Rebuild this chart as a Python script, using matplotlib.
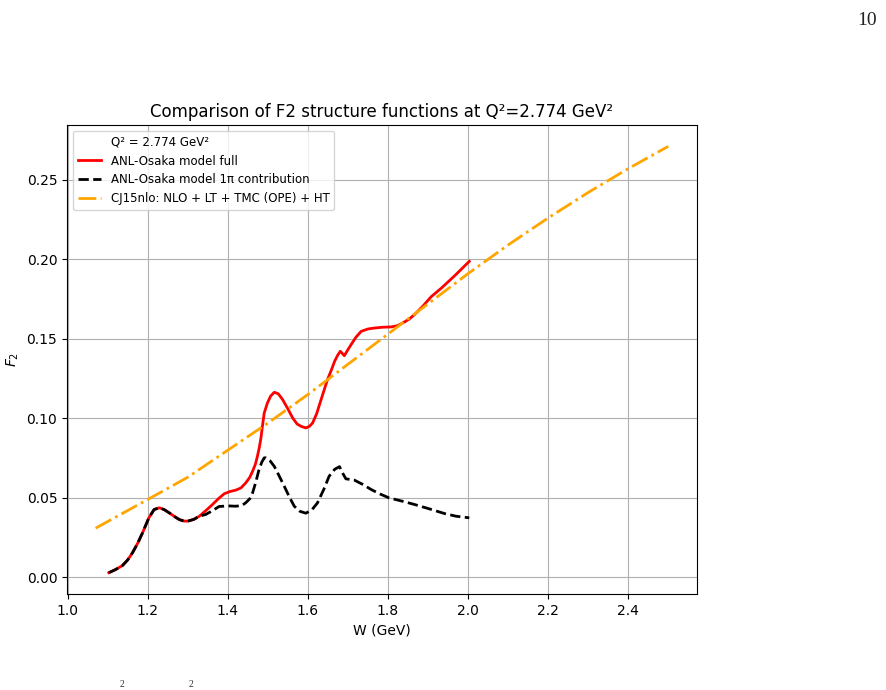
import matplotlib
matplotlib.use("Agg")
import matplotlib.pyplot as plt
import numpy as np

# Values
w_full = [1.103, 1.120, 1.137, 1.150, 1.162, 1.175, 1.187, 1.203, 1.216, 1.229,
          1.241, 1.254, 1.267, 1.279, 1.290, 1.300, 1.315, 1.329, 1.345, 1.362,
          1.377, 1.391, 1.405, 1.420, 1.433, 1.445, 1.455, 1.462, 1.469, 1.474,
          1.479, 1.483, 1.487, 1.491, 1.499, 1.507, 1.516, 1.526, 1.537, 1.550,
          1.562, 1.573, 1.583, 1.595, 1.604, 1.612, 1.622, 1.633, 1.649, 1.658,
          1.667, 1.674, 1.681, 1.686, 1.691, 1.700, 1.708, 1.720, 1.733, 1.750,
          1.766, 1.787, 1.808, 1.823, 1.837, 1.852, 1.866, 1.887, 1.908, 1.933,
          1.968, 2.003]
f2_full = [0.0030, 0.0050, 0.0075, 0.0110, 0.0155, 0.0215, 0.0280, 0.0375, 0.0427, 0.0438,
           0.0427, 0.0406, 0.0383, 0.0364, 0.0355, 0.0354, 0.0365, 0.0385, 0.0420, 0.0459,
           0.0496, 0.0526, 0.0540, 0.0549, 0.0563, 0.0595, 0.0630, 0.0668, 0.0712, 0.0762,
           0.0820, 0.0880, 0.0960, 0.1034, 0.1097, 0.1140, 0.1164, 0.1155, 0.1118, 0.1060,
           0.1003, 0.0965, 0.0950, 0.0940, 0.0950, 0.0972, 0.1030, 0.1118, 0.1244, 0.1300,
           0.1360, 0.1395, 0.1422, 0.1408, 0.1394, 0.1432, 0.1464, 0.1510, 0.1547, 0.1562,
           0.1568, 0.1573, 0.1575, 0.1582, 0.1600, 0.1622, 0.1652, 0.1705, 0.1765, 0.1818,
           0.1900, 0.1987]

w_1pi = [1.103, 1.120, 1.137, 1.150, 1.162, 1.175, 1.187, 1.203, 1.216, 1.229,
         1.241, 1.254, 1.267, 1.279, 1.290, 1.300, 1.315, 1.329, 1.345, 1.362,
         1.378, 1.400, 1.420, 1.435, 1.445, 1.455, 1.462, 1.470, 1.478, 1.485,
         1.491, 1.495, 1.505, 1.516, 1.528, 1.541, 1.554, 1.566, 1.580, 1.595,
         1.610, 1.624, 1.640, 1.653, 1.667, 1.679, 1.687, 1.695, 1.716, 1.737,
         1.758, 1.780, 1.803, 1.835, 1.866, 1.905, 1.941, 1.970, 2.003]
f2_1pi = [0.0030, 0.0050, 0.0075, 0.0110, 0.0155, 0.0215, 0.0280, 0.0375, 0.0427, 0.0438,
          0.0427, 0.0406, 0.0383, 0.0364, 0.0355, 0.0354, 0.0365, 0.0385, 0.0396, 0.0420,
          0.0446, 0.0450, 0.0448, 0.0452, 0.0470, 0.0495, 0.0532, 0.0600, 0.0678, 0.0725,
          0.0752, 0.0752, 0.0735, 0.0699, 0.0640, 0.0574, 0.0505, 0.0448, 0.0416, 0.0404,
          0.0425, 0.0469, 0.0555, 0.0636, 0.0680, 0.0697, 0.0655, 0.0620, 0.0612, 0.0585,
          0.0553, 0.0525, 0.0500, 0.0480, 0.0459, 0.0430, 0.0402, 0.0385, 0.0375]

w_cj15 = [1.07, 1.2, 1.3, 1.4, 1.5, 1.6, 1.7, 1.8, 1.9, 2.0, 2.1, 2.2, 2.3, 2.4, 2.5]
f2_cj15 = [0.031, 0.049, 0.063, 0.080, 0.097, 0.115, 0.134, 0.153, 0.172, 0.191,
           0.209, 0.226, 0.242, 0.257, 0.271]

q2 = 2.774

fig = plt.figure(figsize=(8.86, 6.9), dpi=100)
ax = fig.add_axes([0.0756, 0.1391, 0.711, 0.6797])

ax.plot([], [], ' ', label=f"Q² = {q2} GeV²")
ax.plot(w_full, f2_full, color='red', linewidth=2, label="ANL-Osaka model full")
ax.plot(w_1pi, f2_1pi, color='black', linestyle='--', linewidth=2,
        label="ANL-Osaka model 1π contribution")
ax.plot(w_cj15, f2_cj15, color='orange', linestyle='-.', linewidth=2,
        label="CJ15nlo: NLO + LT + TMC (OPE) + HT")

ax.set_title(f"Comparison of F2 structure functions at Q²={q2} GeV²", fontsize=12)
ax.set_xlabel("W (GeV)")
ax.set_ylabel("$F_2$")
ax.grid(True)
ax.legend(loc='upper left', fontsize=8.5)

# page furniture from the paper around the figure
fig.text(0.99, 0.970, "10", family='Liberation Serif', fontsize=14,
         ha='right', va='center', color='#222222')
fig.text(122 / 886, 0.002, "2", family='Liberation Serif', fontsize=7,
         ha='center', va='bottom', color='#333333')
fig.text(191 / 886, 0.002, "2", family='Liberation Serif', fontsize=7,
         ha='center', va='bottom', color='#333333')

fig.savefig("out.png", dpi=100)
